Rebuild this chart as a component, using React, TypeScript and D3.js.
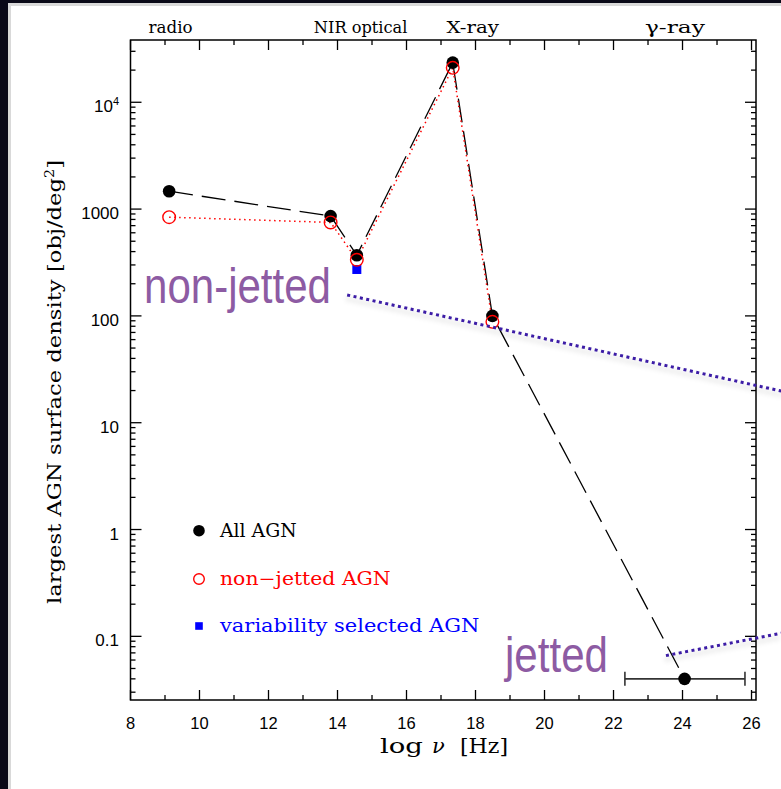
import React from "react";
import * as d3 from "d3";

// ---- data ----
const xDomain = [8, 26.13];
const yDomainLog = [-1.596, 4.583];

const xTickValues = [8, 10, 12, 14, 16, 18, 20, 22, 24, 26];
const yTickValues = [0.1, 1, 10, 100, 1000, 10000];
const yTickLabels = ["0.1", "1", "10", "100", "1000", "10^4"];

const bandNames = ["radio", "NIR optical", "X-ray", "γ-ray"];
const bandCenters = [9.16, 14.67, 17.92, 23.78];

// All AGN
const allLogNu = [9.12, 13.8, 14.56, 17.34, 18.49, 24.06];
const allDensity = [1470, 860, 370, 23500, 100, 0.04];

// gamma-ray frequency range
const gammaRange = [22.33, 25.81];

// non-jetted AGN
const nonJettedLogNu = [9.12, 13.8, 14.56, 17.34, 18.49];
const nonJettedDensity = [840, 750, 335, 21000, 88];

// variability selected AGN
const variabilityLogNu = [14.56];
const variabilityDensity = [272];

// trend guides
const nonJettedTrendLogNu = [14.28, 26.86];
const nonJettedTrendDensity = [157, 19.8];
const jettedTrendLogNu = [23.52, 26.86];
const jettedTrendDensity = [0.066, 0.107];

const legendLabels = ["All AGN", "non\u2212jetted AGN", "variability selected AGN"];

// ---- layout ----
const W = 781;
const H = 789;
const plot = { left: 130.5, right: 756, top: 40, bottom: 700 };
const bandLabelWidths = [44, 93.5, 52.5, 60];
const legendTextWidths = [76.7, 170.7, 259.3];
const legendRows = [530.7, 579, 626];

const serif = "'DejaVu Serif', serif";
const sans = "'Liberation Sans', Arial, sans-serif";
const purple = "#8d5ba3";
const guide = "#3c1fa6";

export default function App() {
  const x = d3.scaleLinear().domain(xDomain).range([plot.left, plot.right]);
  const y = d3
    .scaleLog()
    .domain([Math.pow(10, yDomainLog[0]), Math.pow(10, yDomainLog[1])])
    .range([plot.bottom, plot.top]);

  const line = d3
    .line<[number, number]>()
    .x((d) => x(d[0]))
    .y((d) => y(d[1]));

  const allPts: [number, number][] = allLogNu.map((v, i) => [v, allDensity[i]]);
  const njPts: [number, number][] = nonJettedLogNu.map((v, i) => [v, nonJettedDensity[i]]);
  const varPts: [number, number][] = variabilityLogNu.map((v, i) => [v, variabilityDensity[i]]);
  const njTrend: [number, number][] = nonJettedTrendLogNu.map((v, i) => [v, nonJettedTrendDensity[i]]);
  const jTrend: [number, number][] = jettedTrendLogNu.map((v, i) => [v, jettedTrendDensity[i]]);

  // x ticks: every unit, even ones long
  const xTicks = d3.range(8, 27).filter((v) => x(v) <= plot.right + 0.5);
  // y ticks: log minor ticks
  const yTicks: { v: number; major: boolean }[] = [];
  for (let d = -2; d <= 4; d++) {
    for (let k = 1; k <= 9; k++) {
      const v = k * Math.pow(10, d);
      const py = y(v);
      if (py >= plot.top - 0.5 && py <= plot.bottom + 0.5) yTicks.push({ v, major: k === 1 });
    }
  }

  const majorLen = 10;
  const minorLen = 5;
  const gammaY = y(allDensity[5]);

  return (
    <svg
      width={W}
      height={H}
      viewBox={`0 0 ${W} ${H}`}
      style={{ position: "absolute", left: 0, top: 0, display: "block" }}
    >
      <defs>
        <filter id="soft-shadow" x="-10%" y="-200%" width="120%" height="500%">
          <feDropShadow dx="0" dy="4" stdDeviation="2.5" floodColor="#000" floodOpacity="0.22" />
        </filter>
      </defs>

      {/* page backdrop */}
      <rect x={0} y={0} width={W} height={H} fill="#0a0918" />
      <rect x={8} y={3} width={W - 8} height={H - 3} fill="#d9d9d9" />
      <rect x={11} y={6} width={W - 11} height={H - 6} fill="#ffffff" />

      {/* band labels above the frame */}
      {bandNames.map((name, i) => (
        <text
          key={name}
          x={x(bandCenters[i])}
          y={33}
          textAnchor="middle"
          fontFamily={serif}
          fontSize={16.5}
          textLength={bandLabelWidths[i]}
          lengthAdjust="spacingAndGlyphs"
          fill="#000"
        >
          {name}
        </text>
      ))}

      {/* frame */}
      <rect
        x={plot.left}
        y={plot.top}
        width={plot.right - plot.left}
        height={plot.bottom - plot.top}
        fill="none"
        stroke="#000"
        strokeWidth={1.5}
      />

      {/* x ticks (bottom and top) */}
      {xTicks.map((v) => {
        const len = v % 2 === 0 ? majorLen : minorLen;
        const px = x(v);
        return (
          <g key={"xt" + v} stroke="#000" strokeWidth={1.3}>
            <line x1={px} x2={px} y1={plot.bottom} y2={plot.bottom - len} />
            <line x1={px} x2={px} y1={plot.top} y2={plot.top + len} />
          </g>
        );
      })}
      {xTickValues.map((v) => (
        <text
          key={"xl" + v}
          x={x(v)}
          y={729}
          textAnchor="middle"
          fontFamily={sans}
          fontSize={16.5}
          fill="#000"
        >
          {v}
        </text>
      ))}

      {/* y ticks (left and right) */}
      {yTicks.map((t) => {
        const len = t.major ? majorLen + 1 : minorLen;
        const py = y(t.v);
        return (
          <g key={"yt" + t.v} stroke="#000" strokeWidth={1.3}>
            <line x1={plot.left} x2={plot.left + len} y1={py} y2={py} />
            <line x1={plot.right} x2={plot.right - len} y1={py} y2={py} />
          </g>
        );
      })}
      {yTickValues.map((v, i) => {
        const lab = yTickLabels[i];
        const py = y(v) + 10;
        if (lab.includes("^")) {
          const [base, exp] = lab.split("^");
          return (
            <text key={"yl" + v} x={119} y={py} textAnchor="end" fontFamily={sans} fontSize={17} fill="#000">
              {base}
              <tspan dy={-7} fontSize={11}>
                {exp}
              </tspan>
            </text>
          );
        }
        return (
          <text key={"yl" + v} x={119} y={py} textAnchor="end" fontFamily={sans} fontSize={17} fill="#000">
            {lab}
          </text>
        );
      })}

      {/* axis titles */}
      <g fontFamily={serif} fontSize={21} fill="#000">
        <text x={380} y={753} textLength={43} lengthAdjust="spacingAndGlyphs">
          log
        </text>
        <text x={432} y={753} fontStyle="italic">
          ν
        </text>
        <text x={460} y={753} textLength={48} lengthAdjust="spacingAndGlyphs">
          [Hz]
        </text>
      </g>
      <text
        transform={`translate(61,${382}) rotate(-90)`}
        textAnchor="middle"
        fontFamily={serif}
        fontSize={19}
        textLength={444}
        lengthAdjust="spacingAndGlyphs"
        fill="#000"
      >
        largest AGN surface density [obj/deg
        <tspan dy={-7} fontSize={12}>
          2
        </tspan>
        <tspan dy={7}>]</tspan>
      </text>

      {/* gamma-ray range bar */}
      <g stroke="#333" strokeWidth={1.6}>
        <line x1={x(gammaRange[0])} x2={x(gammaRange[1])} y1={gammaY} y2={gammaY} />
        <line x1={x(gammaRange[0])} x2={x(gammaRange[0])} y1={gammaY - 7} y2={gammaY + 7} />
        <line x1={x(gammaRange[1])} x2={x(gammaRange[1])} y1={gammaY - 7} y2={gammaY + 7} />
      </g>

      {/* connecting lines */}
      <path d={line(allPts) || ""} fill="none" stroke="#000" strokeWidth={1.3} strokeDasharray="24,9" />
      <path d={line(njPts) || ""} fill="none" stroke="#ff0000" strokeWidth={1.5} strokeDasharray="1.5,3.5" />

      {/* markers */}
      {varPts.map((d, i) => (
        <rect key={"v" + i} x={x(d[0]) - 4.5} y={y(d[1]) - 4.5} width={9} height={9} fill="#0000ff" />
      ))}
      {allPts.map((d, i) => (
        <circle key={"a" + i} cx={x(d[0])} cy={y(d[1])} r={6.3} fill="#000" />
      ))}
      {njPts.map((d, i) => (
        <circle key={"n" + i} cx={x(d[0])} cy={y(d[1])} r={6.3} fill="none" stroke="#ff0000" strokeWidth={1.4} />
      ))}

      {/* legend */}
      <circle cx={199} cy={legendRows[0]} r={5.8} fill="#000" />
      <circle cx={199} cy={legendRows[1]} r={5.3} fill="none" stroke="#ff0000" strokeWidth={1.4} />
      <rect x={195.2} y={legendRows[2] - 3.8} width={7.6} height={7.6} fill="#0000ff" />
      {legendLabels.map((lab, i) => (
        <text
          key={lab}
          x={220}
          y={legendRows[i] + 6}
          fontFamily={serif}
          fontSize={18}
          textLength={legendTextWidths[i]}
          lengthAdjust="spacingAndGlyphs"
          fill={["#000", "#ff0000", "#0000ff"][i]}
        >
          {lab}
        </text>
      ))}

      {/* trend guides */}
      <path
        d={line(njTrend) || ""}
        fill="none"
        stroke={guide}
        strokeWidth={3}
        strokeDasharray="3,3.5"
        filter="url(#soft-shadow)"
      />
      <path
        d={line(jTrend) || ""}
        fill="none"
        stroke={guide}
        strokeWidth={3}
        strokeDasharray="3,3.5"
        filter="url(#soft-shadow)"
      />
      <text x={144} y={303} fontFamily={sans} fontSize={50} textLength={187} lengthAdjust="spacingAndGlyphs" fill={purple}>
        non-jetted
      </text>
      <text x={505} y={672} fontFamily={sans} fontSize={50} textLength={103} lengthAdjust="spacingAndGlyphs" fill={purple}>
        jetted
      </text>
    </svg>
  );
}
